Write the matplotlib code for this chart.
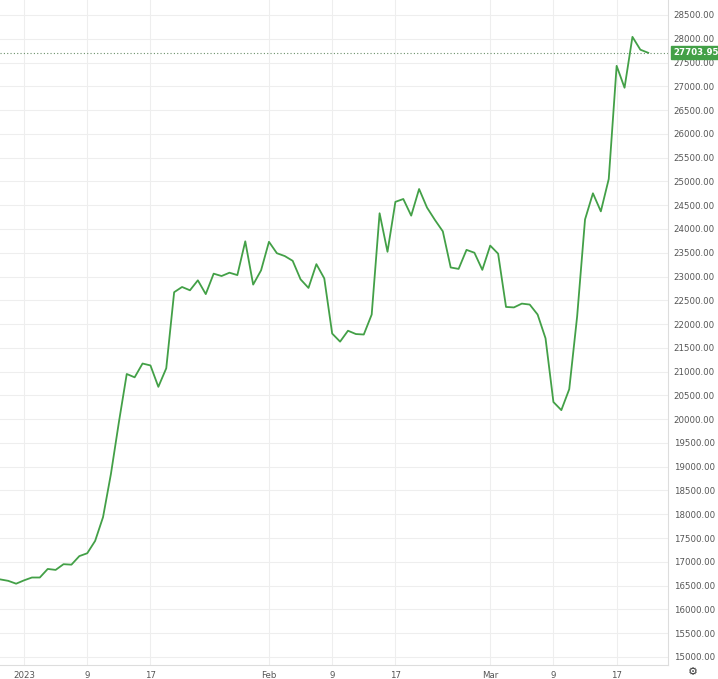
import matplotlib
matplotlib.use("Agg")
import matplotlib.pyplot as plt
import numpy as np

# daily values starting 2022-12-29 (day -3 relative to 2023-01-01)
start_day = -3
values = [16630, 16600, 16540, 16610, 16670, 16670, 16850, 16830, 16950, 16940,
          17120, 17180, 17440, 17940, 18850, 19930, 20950, 20880, 21170, 21130,
          20680, 21070, 22670, 22780, 22710, 22920, 22630, 23060, 23010, 23080,
          23030, 23740, 22830, 23130, 23730, 23490, 23430, 23330, 22940, 22760,
          23260, 22960, 21800, 21630, 21860, 21790, 21780, 22200, 24330, 23520,
          24570, 24630, 24280, 24840, 24450, 24190, 23950, 23190, 23160, 23560,
          23500, 23140, 23650, 23480, 22360, 22350, 22430, 22410, 22200, 21700,
          20360, 20190, 20630, 22160, 24200, 24750, 24370, 25050, 27430, 26970,
          28040, 27770, 27703.95]
tick_days = [0, 8, 16, 31, 39, 47, 59, 67, 75]
tick_labels = ["2023", "9", "17", "Feb", "9", "17", "Mar", "9", "17"]
y_ticks = np.arange(15000, 28501, 500)

days = np.arange(len(values)) + start_day
W, H = 718, 679
fig = plt.figure(figsize=(W/100, H/100), dpi=100)
ax = fig.add_axes([0, 14/H, 668/W, 1 - 14/H])
green = "#43a047"
ax.plot(days, values, color=green, lw=1.3)
ax.set_xlim(-3.04, 81.5)
ax.set_ylim(14830, 28815)
ax.yaxis.tick_right()
ax.set_yticks(y_ticks)
ax.set_yticklabels([f"{v:.2f}" for v in y_ticks])
ax.set_xticks(tick_days)
ax.set_xticklabels(tick_labels)
ax.tick_params(length=0, labelsize=6.2, colors="#555555", pad=4)
ax.tick_params(axis="y", pad=4)
ax.grid(True, color="#eeeeee", lw=0.8)
for s in ["top", "left"]:
    ax.spines[s].set_visible(False)
ax.spines["right"].set_color("#dddddd")
ax.spines["bottom"].set_color("#dddddd")
last = values[-1]
ax.axhline(last, color="#6a8f6a", lw=0.8, ls=(0, (1, 2)))
ax.text(1.008, last, f"{last:.2f}", transform=ax.get_yaxis_transform(),
        va="center", ha="left", fontsize=6.2, color="white", fontweight="bold",
        bbox=dict(boxstyle="square,pad=0.25", fc=green, ec=green))
fig.text(693/W, 7/H, "\u2699", ha="center", va="center", fontsize=8, color="#333333")
fig.savefig("out.png", dpi=100)
